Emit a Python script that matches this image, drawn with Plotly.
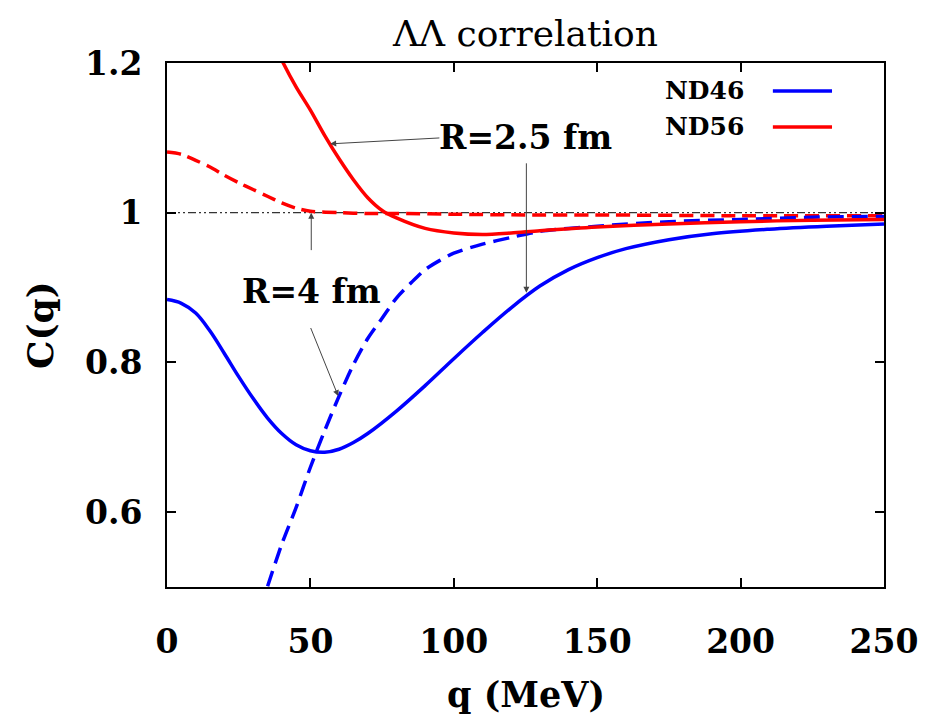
import plotly.graph_objects as go

# ---- data ----
q_nd46_r25 = [0, 5, 10, 15, 20, 25, 30, 35, 40, 45, 50, 55, 60, 65, 70, 80, 90, 100,
              110, 120, 130, 140, 150, 160, 175, 190, 210, 230, 250]
c_nd46_r25 = [0.884, 0.879, 0.866, 0.842, 0.812, 0.781, 0.752, 0.726, 0.705, 0.690, 0.682,
              0.680, 0.684, 0.693, 0.705, 0.735, 0.769, 0.805, 0.840, 0.873, 0.902, 0.924,
              0.940, 0.952, 0.964, 0.972, 0.978, 0.982, 0.985]

q_nd46_r4 = [30, 35, 40, 45, 50, 55, 60, 65, 70, 75, 80, 85, 90, 95, 100, 110, 120, 130,
             150, 175, 200, 225, 250]
c_nd46_r4 = [0.44, 0.50, 0.557, 0.606, 0.66, 0.709, 0.755, 0.797, 0.832, 0.859, 0.886,
             0.906, 0.924, 0.936, 0.946, 0.958, 0.967, 0.975, 0.982, 0.988, 0.991, 0.994,
             0.995]

q_nd56_r25 = [30, 35, 40, 45, 50, 55, 60, 65, 70, 75, 80, 90, 100, 110, 120, 130, 150,
              175, 200, 225, 250]
c_nd56_r25 = [1.295, 1.245, 1.204, 1.168, 1.137, 1.103, 1.072, 1.044, 1.02, 1.003, 0.993,
              0.979, 0.973, 0.971, 0.973, 0.976, 0.981, 0.985, 0.988, 0.990, 0.991]

q_nd56_r4 = [0, 5, 10, 15, 20, 25, 30, 35, 40, 45, 50, 60, 70, 80, 100, 125, 150, 200, 250]
c_nd56_r4 = [1.081, 1.078, 1.07, 1.061, 1.05, 1.04, 1.031, 1.022, 1.013, 1.006, 1.002,
             1.0, 0.999, 0.999, 0.998, 0.997, 0.997, 0.996, 0.996]

q_ref = [0, 250]
c_ref = [1.0, 1.0]

x_ticks = [0, 50, 100, 150, 200, 250]
x_tick_labels = ["0", "50", "100", "150", "200", "250"]
y_ticks = [0.6, 0.8, 1.0, 1.2]
y_tick_labels = ["0.6", "0.8", "1", "1.2"]

legend_names = ["ND46", "ND56"]
legend_colors = ["#0000ff", "#ff0000"]

# label texts and positions (data coords)
labels = [("R=2.5 fm", 125, 1.1), ("R=4 fm", 50.3, 0.895)]
# arrows: (head q, head C, tail q, tail C)
arrows = [(56.9, 1.092, 95.5, 1.1),
          (125.3, 0.893, 125.3, 1.068),
          (50.3, 1.0, 50.3, 0.948),
          (59.7, 0.755, 49.9, 0.848)]

FONT = "DejaVu Serif"
BLUE, RED = "#0000ff", "#ff0000"
LW = 3.5

fig = go.Figure()
fig.add_trace(go.Scatter(x=q_ref, y=c_ref, mode="lines",
                         line=dict(color="black", width=1, dash="8px,3px,2px,3px,2px,3px"),
                         showlegend=False, hoverinfo="skip"))
fig.add_trace(go.Scatter(x=q_nd56_r4, y=c_nd56_r4, mode="lines",
                         line=dict(color=RED, width=LW, dash="14px,7px", shape="spline",
                                   smoothing=0.8),
                         showlegend=False))
fig.add_trace(go.Scatter(x=q_nd46_r4, y=c_nd46_r4, mode="lines",
                         line=dict(color=BLUE, width=LW, dash="16px,8px", shape="spline",
                                   smoothing=0.8),
                         showlegend=False))
fig.add_trace(go.Scatter(x=q_nd46_r25, y=c_nd46_r25, mode="lines",
                         line=dict(color=BLUE, width=LW, shape="spline", smoothing=1.0),
                         showlegend=False))
fig.add_trace(go.Scatter(x=q_nd56_r25, y=c_nd56_r25, mode="lines",
                         line=dict(color=RED, width=LW, shape="spline", smoothing=0.8),
                         showlegend=False))

annotations = []
for hx, hy, tx, ty in arrows:
    annotations.append(dict(x=hx, y=hy, ax=tx, ay=ty, xref="x", yref="y",
                            axref="x", ayref="y", text="", showarrow=True,
                            arrowhead=2, arrowsize=1.2, arrowwidth=1,
                            arrowcolor="#444444"))
for txt, lx, ly in labels:
    annotations.append(dict(x=lx, y=ly, xref="x", yref="y", text=txt, showarrow=False,
                            font=dict(family=FONT, size=33, color="black", weight="bold")))

# legend (text on the left, line sample on the right)
leg_y = [0.9466, 0.8779]
shapes = []
for name, col, yy in zip(legend_names, legend_colors, leg_y):
    annotations.append(dict(x=0.8075, y=yy, xref="paper", yref="paper", text=name,
                            showarrow=False, xanchor="right", yanchor="middle",
                            font=dict(family=FONT, size=25, color="black", weight="bold")))
    shapes.append(dict(type="line", xref="paper", yref="paper", x0=0.845, x1=0.9275,
                       y0=yy, y1=yy, line=dict(color=col, width=LW)))

# axis titles
annotations.append(dict(x=-0.177, y=0.5, xref="paper", yref="paper", text="C(q)",
                        textangle=-90, showarrow=False, xanchor="center", yanchor="middle",
                        font=dict(family=FONT, size=36, color="black", weight="bold")))
annotations.append(dict(x=0.5, y=-0.206, xref="paper", yref="paper", text="q (MeV)",
                        showarrow=False, xanchor="center", yanchor="middle",
                        font=dict(family=FONT, size=35, color="black", weight="bold")))

W, H = 926, 717
fig.update_layout(
    width=W, height=H,
    margin=dict(l=159, r=W - 876, t=55, b=H - 579),
    paper_bgcolor="white", plot_bgcolor="white",
    font=dict(family=FONT),
    title=dict(text="ΛΛ correlation", x=0.5, xref="paper", xanchor="center",
               y=1 - 25 / H, yanchor="middle",
               font=dict(family=FONT, size=36, color="black")),
    annotations=annotations, shapes=shapes,
    showlegend=False,
    xaxis=dict(range=[0, 250], tickvals=x_ticks, ticktext=x_tick_labels,
               ticks="inside", ticklen=9, tickwidth=1.5, tickcolor="black",
               showline=True, linecolor="black", linewidth=2, mirror="ticks",
               showgrid=False, zeroline=False, ticklabelstandoff=24,
               tickfont=dict(family=FONT, size=33, color="black", weight="bold")),
    yaxis=dict(range=[0.5, 1.2], tickvals=y_ticks, ticktext=y_tick_labels,
               ticks="inside", ticklen=9, tickwidth=1.5, tickcolor="black",
               showline=True, linecolor="black", linewidth=2, mirror="ticks",
               showgrid=False, zeroline=False, ticklabelstandoff=16,
               tickfont=dict(family=FONT, size=33, color="black", weight="bold")),
)

fig.write_html("out.html")
